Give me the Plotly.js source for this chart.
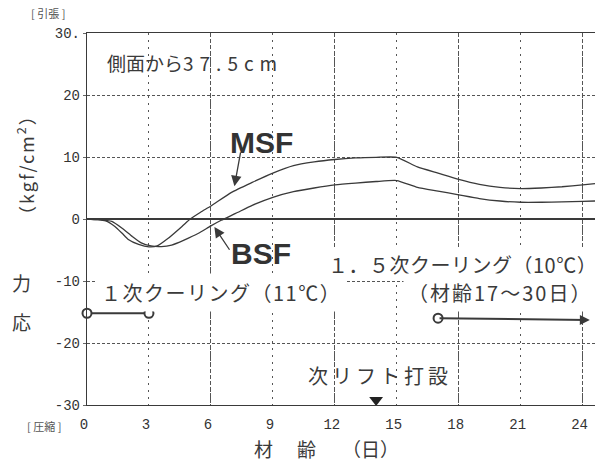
<!DOCTYPE html>
<html>
<head>
<meta charset="utf-8">
<script src="https://cdn.plot.ly/plotly-3.0.1.min.js"></script>
<style>html,body{margin:0;padding:0;background:#fff;}#chart{width:595px;height:465px;}</style>
</head>
<body>
<div id="chart"></div>
<script>
// ---- data ----
const xTicks = [0, 3, 6, 9, 12, 15, 18, 21, 24];
const xTickText = ["0", "3", "6", "9", "12", "15", "18", "21", "24"];
const xMajorGrid = [6, 12, 18, 24];
const yTicks = [-30, -20, -10, 0, 10, 20, 30];
const yTickText = ["-30", "-20", "-10", "0", "10", "20", "30."];

const msfX = [0, 0.5, 0.9, 1.35, 1.7, 2.0, 2.5, 3.0, 3.4, 3.9, 4.6, 5.0, 5.5, 6.0, 7.0, 8.0, 9.0, 10.0, 11.0, 12.0, 13.0, 14.0, 15.0, 16.0, 17.0, 18.0, 19.0, 20.0, 21.0, 22.0, 23.0, 24.0, 24.6];
const msfY = [0, -0.1, -0.3, -1.2, -2.3, -3.3, -4.1, -4.5, -4.35, -3.2, -1.2, 0, 1.1, 2.1, 4.3, 5.9, 7.4, 8.6, 9.2, 9.6, 9.85, 9.95, 9.95, 8.4, 7.4, 6.4, 5.6, 5.1, 4.9, 5.0, 5.2, 5.5, 5.7];

const bsfX = [0, 0.5, 1.2, 1.7, 2.2, 2.6, 3.1, 3.6, 4.1, 4.7, 5.4, 6.0, 6.5, 7.2, 8.0, 9.0, 10.0, 11.0, 12.0, 13.0, 14.0, 15.0, 16.0, 17.0, 18.0, 19.0, 20.0, 21.0, 22.0, 23.0, 24.0, 24.6];
const bsfY = [0, -0.1, -0.4, -1.5, -2.85, -3.8, -4.35, -4.45, -4.2, -3.4, -2.3, -1.1, -0.2, 0.9, 2.2, 3.5, 4.4, 5.0, 5.5, 5.8, 6.05, 6.2, 5.1, 4.5, 3.9, 3.3, 2.9, 2.7, 2.7, 2.75, 2.85, 2.9];

// cooling periods (day, level)
const cool1X = [0, 3];
const cool1Y = [-15.2, -15.2];
const cool15X = [17, 24.35];
const cool15Y = [-16.0, -16.3];

// next lift placement
const liftX = [14.0];
const liftY = [-29.2];

// ---- styling ----
const ink = '#3a3a3a';
const jp = 'Noto Sans CJK JP';
const mono = 'Liberation Mono';

const traces = [
  {x: msfX, y: msfY, mode: 'lines', line: {color: ink, width: 1.3, shape: 'spline', smoothing: 0.5}, hoverinfo: 'skip'},
  {x: bsfX, y: bsfY, mode: 'lines', line: {color: ink, width: 1.3, shape: 'spline', smoothing: 0.5}, hoverinfo: 'skip'},
  {x: cool1X, y: cool1Y, mode: 'lines+markers', cliponaxis: false,
   line: {color: ink, width: 2},
   marker: {symbol: 'circle', size: 9, color: '#fff', line: {color: ink, width: 2}}},
  {x: [cool15X[0]], y: [cool15Y[0]], mode: 'markers', cliponaxis: false,
   marker: {symbol: 'circle', size: 9, color: '#fff', line: {color: ink, width: 2}}},
  {x: liftX, y: liftY, xaxis: 'x2', mode: 'markers', cliponaxis: false,
   marker: {symbol: 'triangle-down', size: 12, color: '#222'}}
];

const W = 508, H = 372; // plot area size in px (for paper coords)
function px(p) { return (p - 87) / W; }
function py(p) { return (405 - p) / H; }
function pa(xp, yp, text, font, extra) {
  return Object.assign({x: px(xp), y: py(yp), xref: 'paper', yref: 'paper', text: text,
    showarrow: false, xanchor: 'center', yanchor: 'middle', font: font}, extra || {});
}

const annotations = [
  // texts in the plot
  {x: 0.87, y: 25.3, xref: 'x', yref: 'y', text: '側面から<span style="letter-spacing:6px">37.5cm</span>', showarrow: false,
   xanchor: 'left', yanchor: 'middle', font: {family: jp, size: 19, color: ink}},
  {x: 8.47, y: 12.3, xref: 'x', yref: 'y', text: '<b>MSF</b>', showarrow: false, xanchor: 'center', yanchor: 'middle',
   font: {family: 'Liberation Sans', size: 30, color: '#333'}},
  {x: 8.42, y: -5.5, xref: 'x', yref: 'y', text: '<b>BSF</b>', showarrow: false, xanchor: 'center', yanchor: 'middle',
   font: {family: 'Liberation Sans', size: 30, color: '#333'}},
  {x: 7.14, y: 5.3, ax: 7.45, ay: 11.0, xref: 'x', yref: 'y', axref: 'x', ayref: 'y', text: '',
   showarrow: true, arrowhead: 2, arrowsize: 1.6, arrowwidth: 1.3, arrowcolor: ink},
  {x: 6.17, y: -1.3, ax: 6.95, ay: -5.2, xref: 'x', yref: 'y', axref: 'x', ayref: 'y', text: '',
   showarrow: true, arrowhead: 2, arrowsize: 1.6, arrowwidth: 1.3, arrowcolor: ink},
  {x: 0.45, y: -11.8, xref: 'x', yref: 'y', text: '<span style="letter-spacing:1.5px">１次クーリング（11℃）</span>', showarrow: false,
   xanchor: 'left', yanchor: 'middle', bgcolor: '#fff', borderpad: 4, font: {family: jp, size: 20, color: ink}},
  {x: 11.55, y: -7.3, xref: 'x', yref: 'y', text: '<span style="letter-spacing:0.5px">１．５次クーリング（10℃）</span>', showarrow: false,
   xanchor: 'left', yanchor: 'middle', bgcolor: '#fff', borderpad: 1, font: {family: jp, size: 20, color: ink}},
  {x: 15.3, y: -11.8, xref: 'x', yref: 'y', text: '<span style="letter-spacing:2px">（材齢17～30日）</span>', showarrow: false,
   xanchor: 'left', yanchor: 'middle', bgcolor: '#fff', borderpad: 4, font: {family: jp, size: 20, color: ink}},
  {x: 14.2, y: -25.3, xref: 'x', yref: 'y', text: '<span style="letter-spacing:4px">次リフト打設</span>', showarrow: false,
   xanchor: 'center', yanchor: 'middle', font: {family: jp, size: 20, color: ink}},
  // 1.5次 cooling arrow
  {x: cool15X[1], y: cool15Y[1], ax: cool15X[0], ay: cool15Y[0], xref: 'x', yref: 'y', axref: 'x', ayref: 'y',
   text: '', showarrow: true, arrowhead: 2, arrowsize: 1, arrowwidth: 2, arrowcolor: ink},
  // outside texts
  pa(48, 13, '[ 引張 ]', {family: jp, size: 11, color: '#555'}),
  pa(44, 426, '[ 圧縮 ]', {family: jp, size: 11, color: '#555'}),
  pa(21, 321, '応', {family: jp, size: 19, color: ink}),
  pa(21, 282, '力', {family: jp, size: 19, color: ink}),
  pa(25, 165, '<span style="letter-spacing:2px">（kgf/cm<sup>2</sup>）</span>', {family: jp, size: 18, color: ink}, {textangle: -90}),
  pa(263, 449, '材', {family: jp, size: 19, color: ink}),
  pa(306, 449, '齢', {family: jp, size: 19, color: ink}),
  pa(370, 449, '（日）', {family: jp, size: 19, color: ink})
];

const layout = {
  width: 595, height: 465,
  margin: {l: 87, r: 0, t: 33, b: 60},
  paper_bgcolor: '#fff', plot_bgcolor: '#fff',
  showlegend: false,
  xaxis: {
    range: [0, 24.6], tickvals: xTicks, ticktext: xTickText,
    showgrid: true, griddash: '2px,5px', gridcolor: '#555', gridwidth: 1,
    zeroline: false, showline: true, linecolor: ink, linewidth: 1.2, mirror: true,
    ticks: '', ticklabelstandoff: 6, ticklabelshift: -3,
    tickfont: {family: mono, size: 14, color: '#333'}
  },
  xaxis2: {
    overlaying: 'x', matches: 'x', range: [0, 24.6], tickvals: xMajorGrid,
    showgrid: true, griddash: '4px,2px', gridcolor: '#555', gridwidth: 1,
    showticklabels: false, zeroline: false, showline: false, ticks: ''
  },
  yaxis: {
    range: [-30, 30], tickvals: yTicks, ticktext: yTickText,
    showgrid: true, griddash: '3px,2px', gridcolor: '#555', gridwidth: 1,
    zeroline: true, zerolinecolor: ink, zerolinewidth: 1.2,
    showline: true, linecolor: ink, linewidth: 1.2, mirror: false,
    ticks: 'outside', ticklen: 3, tickcolor: '#666',
    tickfont: {family: mono, size: 14, color: '#333'}
  },
  annotations: annotations
};

Plotly.newPlot('chart', traces, layout, {staticPlot: true, displayModeBar: false});
</script>
</body>
</html>
